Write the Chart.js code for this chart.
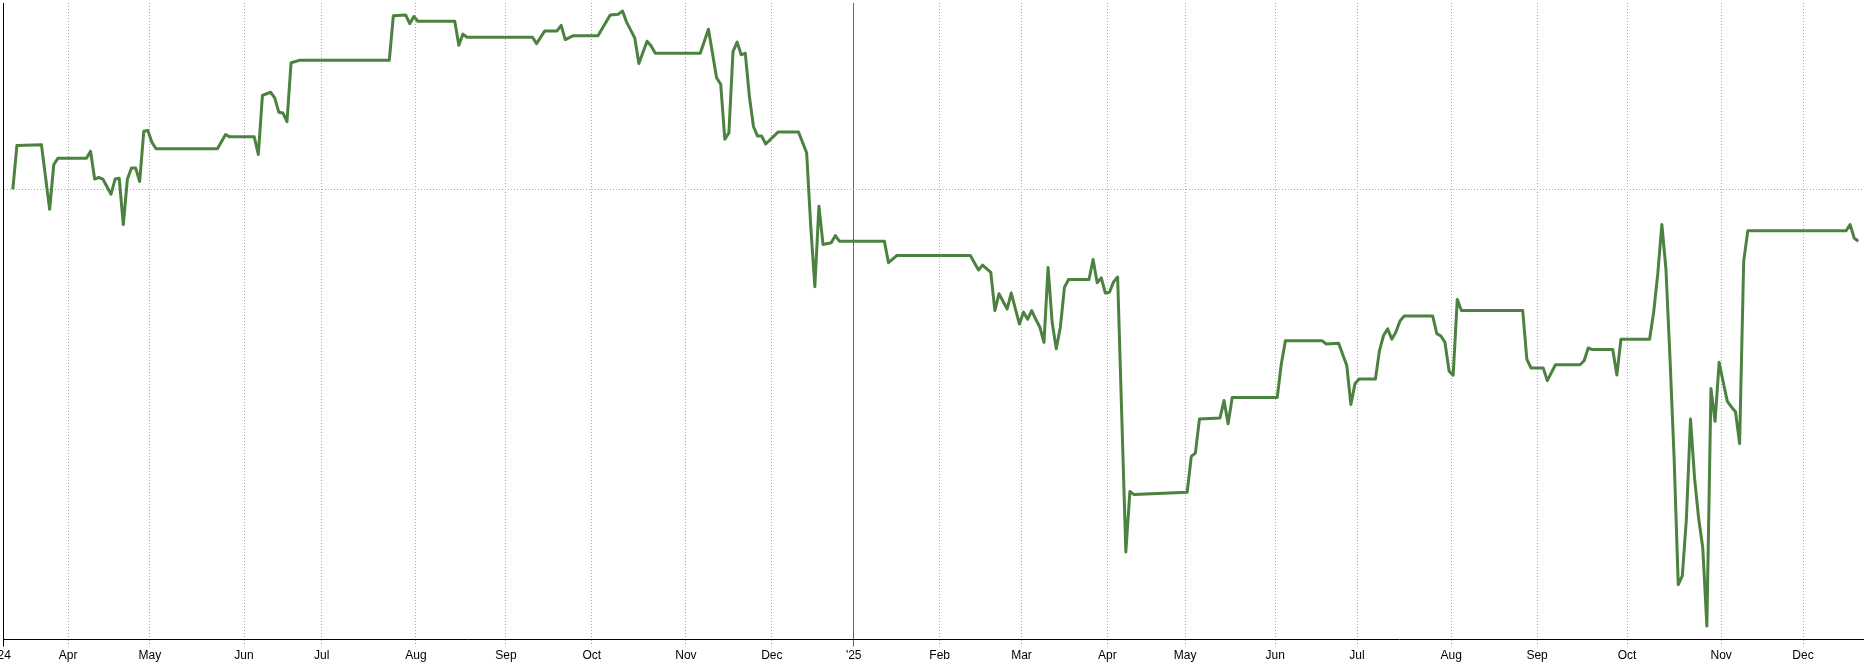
<!DOCTYPE html>
<html>
<head>
<meta charset="utf-8">
<script src="https://cdn.jsdelivr.net/npm/chart.js@4.4.1/dist/chart.umd.min.js"></script>
<style>
html, body { margin: 0; padding: 0; background: #fff; }
#wrap { position: relative; width: 1864px; height: 668px; }
</style>
</head>
<body>
<div id="wrap"><canvas id="perfChart"></canvas></div>
<script>
// trading-day index of each reading (0 = first session shown)
const days = [
    0, 1, 7, 9, 10, 11, 18, 19, 20, 21, 22, 24, 25, 26, 27, 28, 29, 30, 31, 32, 33, 34, 35,
    50, 52, 53, 59, 60, 61, 63, 64, 65, 66, 67, 68, 70,
    92, 93, 96, 97, 98, 99, 108, 109, 110, 111, 127, 128, 130, 133, 134, 135, 137, 143,
    146, 148, 149, 150, 151, 152, 153, 155, 156, 157, 168, 170, 172, 173, 174, 175, 176,
    177, 178, 179, 180, 181, 182, 183, 184, 187, 192, 194, 195, 196, 197, 198, 200, 201,
    202, 213, 214, 216, 234, 236, 237, 239, 240, 241, 243, 244, 246, 247, 248, 249, 250,
    251, 252, 253, 254, 255, 256, 257, 258, 263, 264, 265, 266, 267, 268, 269, 270, 272,
    273, 274, 287, 288, 289, 290, 295, 296, 297, 298, 309, 310, 311, 320, 321, 324, 326,
    327, 328, 329, 333, 334, 335, 336, 337, 338, 339, 340, 347, 348, 349, 350, 351, 352,
    353, 354, 369, 370, 371, 374, 375, 377, 383, 384, 385, 386, 391, 392, 393, 400, 401,
    402, 403, 404, 405, 406, 407, 408, 409, 410, 411, 412, 413, 414, 415, 416, 417, 418,
    419, 420, 421, 422, 423, 424, 448, 449, 450, 451
];

// % change since the first session
const values = [
    0.0, 5.5, 5.6, -2.5, 3.1, 3.9, 3.9, 4.8, 1.3, 1.5, 1.3, -0.6, 1.3, 1.4, -4.4, 1.3, 2.7, 2.7, 1.0, 7.3, 7.4, 5.9, 5.1,
    5.1, 6.9, 6.6, 6.6, 4.4, 11.8, 12.2, 11.5, 9.7, 9.6, 8.5, 15.9, 16.2,
    16.2, 21.8, 21.9, 20.8, 21.7, 21.1, 21.1, 18.1, 19.5, 19.1, 19.1, 18.3, 19.9, 19.9, 20.6, 18.8, 19.3, 19.3,
    21.9, 22.0, 22.4, 21.0, 20.0, 19.0, 15.8, 18.6, 18.0, 17.1, 17.1, 20.1, 14.0, 13.2, 6.3, 7.1, 17.3,
    18.5, 16.9, 17.1, 11.7, 7.9, 6.7, 6.7, 5.7, 7.2, 7.2, 4.6, -4.6, -12.2, -2.1, -6.9, -6.7, -5.8,
    -6.5, -6.5, -9.2, -8.3, -8.3, -10.1, -9.5, -10.4, -15.2, -13.1, -15.0, -13.0, -16.9, -15.4, -16.3, -15.2, -16.3,
    -17.3, -19.2, -9.8, -16.7, -20.0, -17.3, -12.3, -11.3, -11.3, -8.8, -11.7, -11.1, -13.0, -12.9, -11.6, -11.0, -45.5,
    -37.9, -38.3, -38.0, -33.5, -33.1, -28.8, -28.7, -26.5, -29.4, -26.1, -26.1, -21.9, -19.0, -19.0, -19.4, -19.3, -22.1,
    -27.0, -24.4, -23.8, -23.8, -20.2, -18.3, -17.5, -18.8, -17.9, -16.5, -15.9, -15.9, -18.1, -18.4, -19.2, -22.8, -23.3,
    -13.8, -15.2, -15.2, -21.3, -22.4, -22.4, -24.0, -22.0, -22.0, -21.5, -19.9, -20.1, -20.1, -23.3, -18.8, -18.8, -15.4,
    -10.6, -4.4, -10.0, -21.3, -33.8, -49.6, -48.5, -41.3, -28.8, -36.3, -41.3, -45.0, -54.8, -25.0, -29.1, -21.7, -24.2,
    -26.6, -27.3, -27.9, -31.9, -9.0, -5.2, -5.2, -4.4, -6.1, -6.5
];

// first trading day of each month, and its label
const monthStarts = [14, 34, 57, 76, 99, 121, 142, 165, 186, 206, 227, 247, 268, 287, 309, 329, 352, 373, 395, 418, 438];
const monthLabels = ['Apr', 'May', 'Jun', 'Jul', 'Aug', 'Sep', 'Oct', 'Nov', 'Dec', "'25", 'Feb', 'Mar', 'Apr', 'May', 'Jun', 'Jul', 'Aug', 'Sep', 'Oct', 'Nov', 'Dec'];
const startLabel = "'24";

const xMin = -2.4;
const xMax = 452.4;

const tickValues = [xMin].concat(monthStarts.map(d => d - 0.5));
const tickLabels = [startLabel].concat(monthLabels);

function lineKind(ctx) {
    if (!ctx || ctx.index === undefined || !ctx.tick) return 'grid';
    if (ctx.index === 0) return 'axis';
    if (tickLabels[ctx.index] === "'25") return 'year';
    return 'grid';
}

function xGridColor(ctx) {
    const k = lineKind(ctx);
    if (k === 'axis') return '#000';
    if (k === 'year') return '#666';
    return '#a8a8a8';
}

function xGridDash(ctx) {
    return lineKind(ctx) === 'grid' ? [1, 2] : [];
}

const points = days.map((d, i) => ({ x: d, y: values[i] }));

const canvas = document.getElementById('perfChart');
const ctx = canvas.getContext('2d');

window.perfChart = new Chart(ctx, {
    type: 'line',
    data: {
        datasets: [{
            data: points,
            borderColor: '#4b823f',
            borderWidth: 3,
            borderJoinStyle: 'round',
            pointRadius: 0,
            fill: false,
            tension: 0
        }]
    },
    options: {
        responsive: true,
        maintainAspectRatio: false,
        animation: false,
        devicePixelRatio: 1,
        layout: {
            padding: { left: 3, top: 3, right: 0, bottom: 3 }
        },
        plugins: {
            legend: { display: false },
            tooltip: { enabled: false }
        },
        scales: {
            x: {
                type: 'linear',
                min: xMin,
                max: xMax,
                afterBuildTicks: scale => {
                    scale.ticks = tickValues.map(v => ({ value: v }));
                },
                afterFit: scale => {
                    scale.paddingLeft = 0;
                    scale.paddingRight = 0;
                },
                grid: {
                    color: xGridColor,
                    tickColor: xGridColor,
                    tickBorderDash: xGridDash,
                    lineWidth: 1,
                    tickLength: 7
                },
                border: {
                    display: true,
                    color: '#000',
                    width: 1,
                    dash: xGridDash
                },
                ticks: {
                    autoSkip: false,
                    maxRotation: 0,
                    padding: 2,
                    color: '#000',
                    font: { family: "'Liberation Sans', Arial, sans-serif", size: 12 },
                    callback: (value, index) => tickLabels[index]
                }
            },
            y: {
                min: -56.5,
                max: 23.4,
                afterBuildTicks: scale => {
                    scale.ticks = [{ value: 0 }];
                },
                afterFit: scale => {
                    scale.paddingTop = 0;
                    scale.paddingBottom = 0;
                },
                grid: {
                    color: '#a8a8a8',
                    lineWidth: 1,
                    drawTicks: false
                },
                border: {
                    display: true,
                    color: '#000',
                    width: 1,
                    dash: [1, 2]
                },
                ticks: { display: false }
            }
        }
    }
});
</script>
</body>
</html>
